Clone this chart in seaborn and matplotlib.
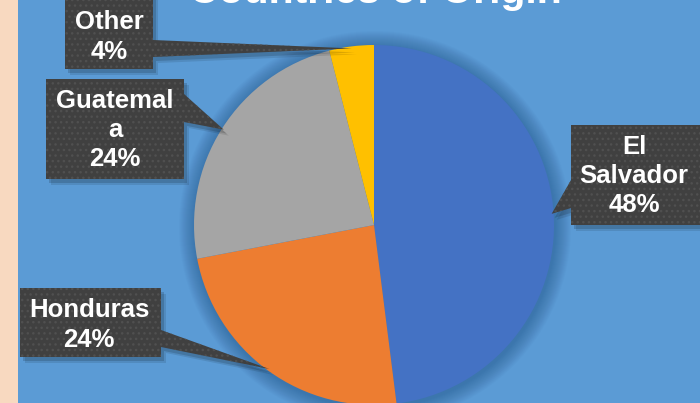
import numpy as np
import matplotlib
matplotlib.use("Agg")
import matplotlib.pyplot as plt
import seaborn as sns
from matplotlib.patches import Polygon, Rectangle, Circle

sns.set_style("white")
plt.rcParams['font.family'] = ['Liberation Sans', 'DejaVu Sans']
plt.rcParams['hatch.linewidth'] = 1.0

# ---- data ----
countries = ["El Salvador", "Honduras", "Guatemala", "Other"]
shares = [48, 24, 24, 4]
label_names = ["El\nSalvador", "Honduras", "Guatemal\na", "Other"]
title = "Countries of Origin"

colors = sns.color_palette(["#4472C4", "#ED7D31", "#A5A5A5", "#FFC000"])

W, H = 700, 403
fig = plt.figure(figsize=(W / 100, H / 100), dpi=100)
fig.patch.set_facecolor("#5B9BD5")
ax = fig.add_axes([0, 0, 1, 1])
ax.set_facecolor("#5B9BD5")

def Y(y):
    return H - y

cx, cy, R = 374, 225, 180

# peach strip
ax.add_patch(Rectangle((0, 0), 18, H, facecolor="#F8D9C0", edgecolor="none", zorder=0))

# soft pie shadow
for k in range(16, 0, -1):
    ax.add_patch(Circle((cx + 1, Y(cy) - 2), R + k, facecolor="#1f4f80",
                        edgecolor="none", alpha=0.03, zorder=1))

wedges, _ = ax.pie(shares, colors=colors, startangle=90, counterclock=False,
                   center=(cx, Y(cy)), radius=R,
                   wedgeprops=dict(linewidth=0, zorder=2))
for w in wedges:
    w.set_zorder(2)

ax.set_xlim(0, W)
ax.set_ylim(0, H)
ax.set_aspect("equal")
ax.axis("off")

# callout layout (pixel, top-down): box x0,x1,y0,y1 ; pointer base b0,b1 ; side ; text center
layout = {
    "Other":       dict(box=(65, 153, -10, 69), base=(40, 57), side="right", txt=(109, 37)),
    "Guatemala":   dict(box=(46, 184, 79, 179), base=(94, 122), side="right", txt=(115, 130)),
    "Honduras":    dict(box=(20, 161, 288, 357), base=(330, 347), side="right", txt=(89, 325)),
    "El Salvador": dict(box=(571, 702, 125, 225), base=(180, 208), side="left", txt=(634, 176)),
}

for name, lab, val, w in zip(countries, label_names, shares, wedges):
    L = layout[name]
    mid = np.deg2rad((w.theta1 + w.theta2) / 2)
    tipx = cx + (R - 2) * np.cos(mid)
    tipy = Y(cy) + (R - 2) * np.sin(mid)
    x0, x1, y0, y1 = L["box"]
    b0, b1 = L["base"]
    if L["side"] == "right":
        pts = [(x0, Y(y0)), (x1, Y(y0)), (x1, Y(b0)), (tipx, tipy), (x1, Y(b1)),
               (x1, Y(y1)), (x0, Y(y1))]
    else:
        pts = [(x0, Y(y0)), (x1, Y(y0)), (x1, Y(y1)), (x0, Y(y1)), (x0, Y(b1)),
               (tipx, tipy), (x0, Y(b0))]
    for off, a in ((5, 0.10), (3, 0.15)):
        shadow = [(px + off, py - off - 1) for px, py in pts]
        ax.add_patch(Polygon(shadow, closed=True, facecolor="black", edgecolor="none",
                             alpha=a, zorder=3))
    ax.add_patch(Polygon(pts, closed=True, facecolor="#404040", edgecolor="#505050",
                         linewidth=0, hatch="...", zorder=4))
    tx, ty = L["txt"]
    ax.text(tx, Y(ty), f"{lab}\n{val}%", ha="center", va="center", color="white",
            fontsize=18.5, fontweight="bold", linespacing=1.28, zorder=5)

fig.text(375 / W, Y(3) / H, title, ha="center", va="baseline", color="white",
         fontsize=29.5, fontweight="bold")

fig.savefig("out.png", dpi=100, facecolor=fig.get_facecolor())
